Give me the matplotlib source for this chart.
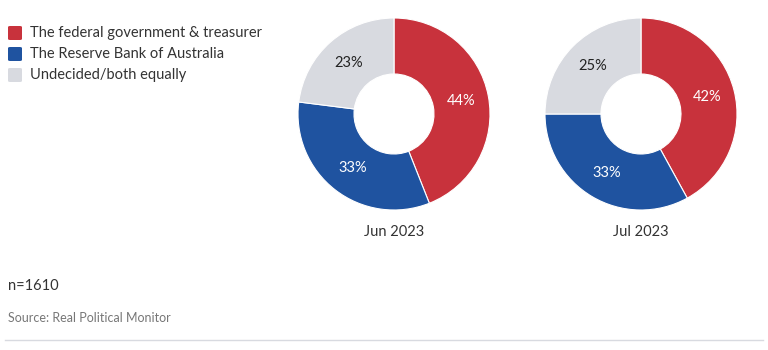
import matplotlib
matplotlib.use("Agg")
import matplotlib.pyplot as plt
from matplotlib.patches import FancyBboxPatch, Rectangle
from matplotlib.lines import Line2D

plt.rcParams['font.family'] = ['Lato', 'DejaVu Sans']

categories = ["The federal government & treasurer", "The Reserve Bank of Australia", "Undecided/both equally"]
periods = ["Jun 2023", "Jul 2023"]
values = {
    "Jun 2023": [44, 33, 23],
    "Jul 2023": [42, 33, 25],
}
colors = ["#C8323C", "#1F53A0", "#D8DAE0"]
text_colors = ["white", "white", "#222222"]
note = "n=1610"
source = "Source: Real Political Monitor"

W, H = 768, 350
fig = plt.figure(figsize=(W / 100, H / 100), dpi=100)

def fx(x):
    return x / W

def fy(y):
    return 1 - y / H

centers = [(394, 114), (641, 114)]
R = 96
inner = 40

for (cx, cy), period in zip(centers, periods):
    ax = fig.add_axes([fx(cx - R), fy(cy + R), 2 * R / W, 2 * R / H])
    vals = values[period]
    wedges, _, autotexts = ax.pie(
        vals, colors=colors, startangle=90, counterclock=False,
        radius=1, autopct=lambda p: f"{round(p)}%", pctdistance=(1 + inner / R) / 2,
        wedgeprops=dict(width=1 - inner / R, edgecolor="white", linewidth=0.8),
        textprops=dict(fontsize=10.5),
    )
    for t, c in zip(autotexts, text_colors):
        t.set_color(c)
    ax.set_xlim(-1.0, 1.0)
    ax.set_ylim(-1.0, 1.0)
    ax.set_aspect("auto")
    ax.axis("off")
    fig.text(fx(cx), fy(232), period, ha="center", va="center", fontsize=10.5, color="#333333")

# legend
for i, (cat, col) in enumerate(zip(categories, colors)):
    yc = 33 + i * 21
    fig.patches.append(FancyBboxPatch((fx(8), fy(yc + 7)), 14 / W, 14 / H,
                                      boxstyle="round,pad=0,rounding_size=0.003",
                                      transform=fig.transFigure, facecolor=col, edgecolor="none"))
    fig.text(fx(30), fy(yc), cat, ha="left", va="center", fontsize=10.5, color="#333333")

fig.text(fx(8), fy(286), note, ha="left", va="center", fontsize=10.5, color="#333333")
fig.text(fx(8), fy(318), source, ha="left", va="center", fontsize=9, color="#777777")
fig.add_artist(Line2D([fx(5), fx(763)], [fy(340), fy(340)], transform=fig.transFigure,
                      color="#D8DAE0", linewidth=1))

fig.savefig("out.png", dpi=100)
